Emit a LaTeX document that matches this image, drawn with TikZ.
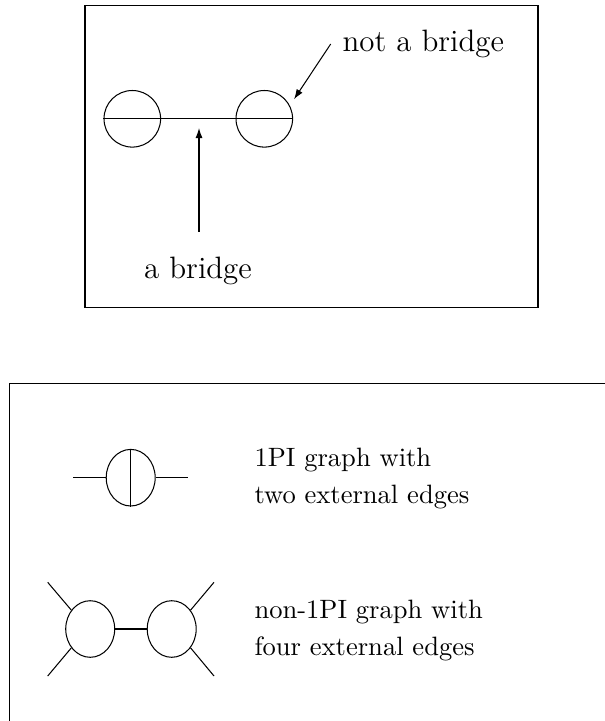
\documentclass[tikz,border=0pt]{standalone}
\usetikzlibrary{shapes.geometric,arrows.meta}
\begin{document}
\begin{tikzpicture}[x=0.388pt,y=-0.388pt]
\tikzstyle{every node}+=[inner sep=0pt]
\tikzstyle{loopc}=[draw=black,circle,minimum size=21.96pt]
\tikzstyle{loope}=[draw=black,ellipse,minimum width=19pt,minimum height=21.96pt]
\tikzstyle{lbl}=[font=\fontsize{12}{14}\selectfont]
\tikzstyle{note}=[font=\fontsize{10.3}{14}\selectfont,anchor=base west]
\tikzstyle{pointer}=[-{Latex[length=3.9pt,width=2.7pt]}]
\useasboundingbox (0,0) rectangle (605,721);
\clip (0,0) rectangle (605,721);
\draw [black] (85,5.3) rectangle (538,307.7);
\draw [black] (9.3,383.3) rectangle (640,760);
\node [loopc] (bl) at (132.3,118.8) {};
\node [loopc] (br) at (264.3,118.8) {};
\draw [black] (bl.west) -- (br.east);
\node [lbl,anchor=base] (abr) at (198,278) {a bridge};
\node [lbl,anchor=base west] (nabr) at (342,52) {not a bridge};
\coordinate (abrtail) at (199,232);
\coordinate (abrtip) at (199,128);
\coordinate (nabrtail) at (330.7,44);
\coordinate (nabrtip) at (294,99.3);
\draw [black,pointer] (abrtail) -- (abrtip);
\draw [black,pointer] (nabrtail) -- (nabrtip);
\node [loope] (opi) at (130.7,477.7) {};
\coordinate (opia) at (73.3,477.7);
\coordinate (opib) at (187.7,477.7);
\draw [black] (opi.north) -- (opi.south);
\draw [black] (opia) -- (opi.west);
\draw [black] (opi.east) -- (opib);
\node [note] (opitxta) at (254,466.7) {1PI graph with};
\node [note] (opitxtb) at (254,503) {two external edges};
\node [loope] (nl) at (90.2,629) {};
\node [loope] (nr) at (171.7,629) {};
\draw [black] (nl.east) -- (nr.west);
\coordinate (nla) at (47.7,582.3);
\coordinate (nlb) at (47.7,676);
\coordinate (nra) at (214,582.3);
\coordinate (nrb) at (214,676);
\draw [black] (nla) -- (nl.135);
\draw [black] (nlb) -- (nl.225);
\draw [black] (nra) -- (nr.45);
\draw [black] (nrb) -- (nr.-45);
\node [note] (nopitxta) at (254,618) {non-1PI graph with};
\node [note] (nopitxtb) at (254,655) {four external edges};
\end{tikzpicture}
\end{document}
